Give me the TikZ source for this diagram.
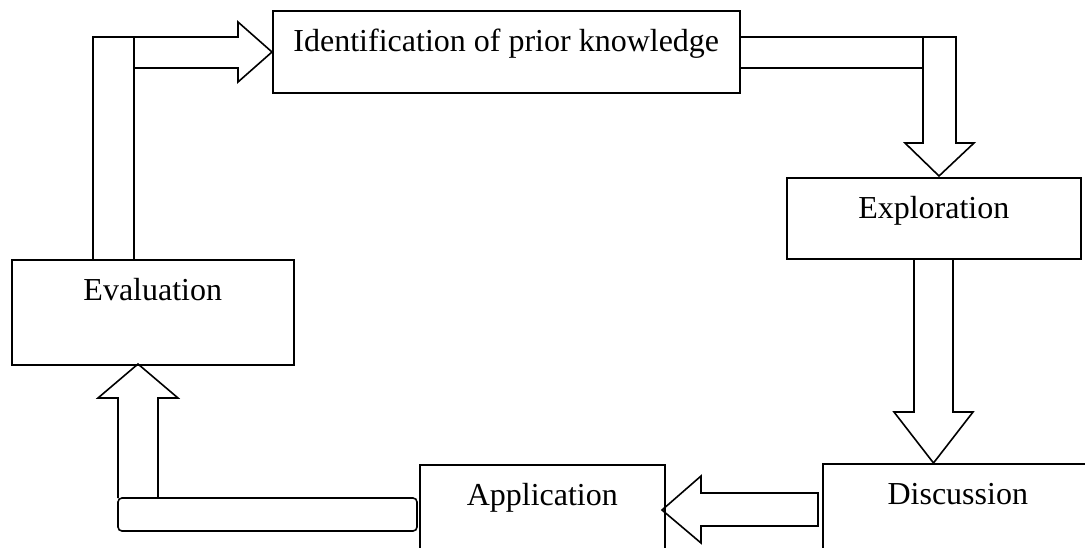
\documentclass[tikz,border=0pt]{standalone}
\usepackage{fontspec}
\setmainfont{Liberation Serif}
\usetikzlibrary{positioning}

\tikzset{
  stagebox/.style={draw, line width=1.6pt, inner sep=0pt, anchor=north west,
    text height=40.5pt, font=\fontsize{32}{38}\selectfont},
  blockarrow/.style={draw, line width=1.6pt, line join=miter},
}

\begin{document}
\begin{tikzpicture}[x=1pt,y=-1pt]
  \clip (0,0) rectangle (1085,547);
  \fill[white] (0,0) rectangle (1085,547);
  % Stages of the cycle
  \node[stagebox, minimum width=467pt, text depth=41.5pt] (ident) at (272,10) {Identification of prior knowledge};
  \node[stagebox, minimum width=294pt, text depth=40.5pt] (explo) at (786,177) {Exploration};
  \node[stagebox, minimum width=270pt, text depth=150pt] (disc) at (822,463) {Discussion};
  \node[stagebox, minimum width=245pt, text depth=150pt] (appl) at (419,464) {Application};
  \node[stagebox, minimum width=282pt, text depth=64.5pt] (eval) at (11,259) {Evaluation};
  % Evaluation -> Identification
  \draw[blockarrow] (93,259) -- (93,37) -- (134,37) -- (134,259);
  \draw[blockarrow] (134,37) -- (238,37) -- (238,22) -- (272,52) -- (238,82) -- (238,68) -- (134,68);
  % Identification -> Exploration
  \draw[blockarrow] (739,37) -- (923,37);
  \draw[blockarrow] (739,68) -- (923,68);
  \draw[blockarrow] (923,37) -- (956,37) -- (956,143) -- (974,143) -- (939,176)
                    -- (905,143) -- (923,143) -- cycle;
  % Exploration -> Discussion
  \draw[blockarrow] (914,258) -- (914,412) -- (894,412) -- (933.5,463) -- (973,412)
                    -- (953,412) -- (953,258);
  % Discussion -> Application
  \draw[blockarrow] (818,493) -- (701,493) -- (701,476) -- (662,510) -- (701,543)
                    -- (701,526) -- (818,526) -- cycle;
  % Application -> Evaluation
  \draw[blockarrow, rounded corners=4pt] (118,498) rectangle (417,531);
  \draw[blockarrow] (118,498) -- (118,398) -- (98,398) -- (138,364) -- (178,398)
                    -- (158,398) -- (158,498);
\end{tikzpicture}
\end{document}
